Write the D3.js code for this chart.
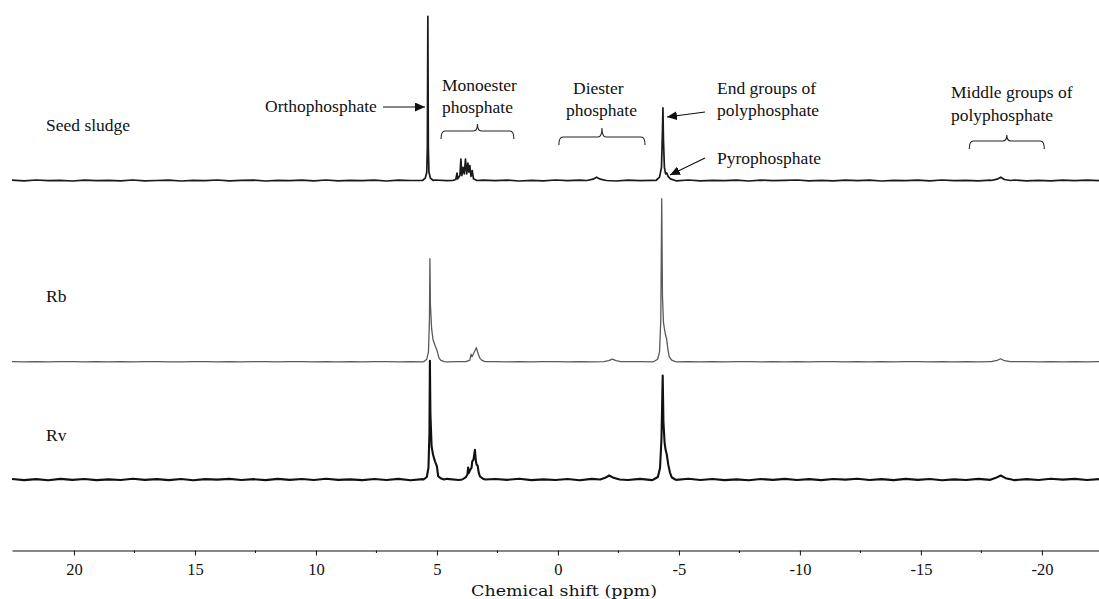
<!DOCTYPE html>
<html>
<head>
<meta charset="utf-8">
<script src="https://cdn.jsdelivr.net/npm/d3@7"></script>
<style>
body { margin: 0; background: #fff; }
text { font-family: "Liberation Serif", "Times New Roman", serif; fill: #111; }
</style>
</head>
<body>
<svg id="chart" width="1099" height="599"></svg>
<script>
// 31P NMR spectra. intensity is arbitrary (seed orthophosphate ~ 100)
var sampleNames = ["Seed sludge", "Rb", "Rv"];

var tickValues = [20, 15, 10, 5, 0, -5, -10, -15, -20];
var minorTicks = [17.5, 12.5, 7.5, 2.5, -2.5, -7.5, -12.5, -17.5];

// peak segments: [ppm, intensity]
var seedPeaks = [
  [[5.60,0],[5.48,1.5],[5.42,5],[5.395,20],[5.375,99.5],[5.355,20],[5.33,5],[5.27,1.5],[5.15,0]],
  [[4.35,0],[4.22,0.6],[4.17,4.5],[4.14,1],[4.05,3],[4.01,13],[3.97,3],[3.92,8],[3.87,4],[3.82,13],[3.77,4],[3.72,10.5],[3.68,5],[3.64,9],[3.59,2.5],[3.54,6],[3.49,1],[3.35,0]],
  [[-1.2,0],[-1.45,0.8],[-1.6,2],[-1.75,0.8],[-2.0,0]],
  [[-4.05,0],[-4.2,2],[-4.28,8],[-4.32,30],[-4.34,44],[-4.36,25],[-4.40,8],[-4.45,4],[-4.50,4.5],[-4.55,2.5],[-4.65,1],[-4.85,0]],
  [[-17.9,0],[-18.15,0.8],[-18.3,2],[-18.45,0.6],[-18.7,0]]
];
var rbPeaks = [
  [[5.55,0],[5.42,1.5],[5.35,6],[5.31,25],[5.29,62.4],[5.27,35],[5.22,20],[5.16,13.3],[5.08,10],[5.00,7],[4.92,2.5],[4.85,1],[4.7,0]],
  [[3.8,0],[3.64,1],[3.59,4.5],[3.55,3],[3.45,6],[3.37,8.5],[3.30,5],[3.22,2],[3.12,0.6],[3.0,0]],
  [[-1.9,0],[-2.1,0.6],[-2.25,1.5],[-2.4,0.6],[-2.6,0]],
  [[-3.95,0],[-4.12,1.5],[-4.2,6],[-4.25,25],[-4.29,98.8],[-4.32,40],[-4.36,24],[-4.40,20],[-4.45,16],[-4.49,14],[-4.55,7],[-4.60,3],[-4.70,1],[-4.85,0]],
  [[-17.9,0],[-18.15,0.8],[-18.3,1.8],[-18.45,0.6],[-18.7,0]]
];
var rvPeaks = [
  [[5.55,0],[5.42,1.5],[5.35,7],[5.31,28],[5.29,72],[5.27,40],[5.22,20],[5.16,15],[5.08,11],[5.00,8],[4.95,2],[4.85,0.8],[4.7,0]],
  [[3.95,0],[3.80,1.5],[3.74,3],[3.71,7.3],[3.68,4],[3.62,6],[3.57,7],[3.54,11],[3.49,12],[3.43,18],[3.39,11],[3.36,9],[3.32,8.5],[3.27,4],[3.22,1.8],[3.10,0.5],[3.0,0]],
  [[-1.75,0],[-1.95,1],[-2.12,2.4],[-2.3,1],[-2.55,0]],
  [[-3.95,0],[-4.13,1.5],[-4.22,7],[-4.28,25],[-4.33,63],[-4.36,35],[-4.41,22],[-4.45,18],[-4.50,15],[-4.56,9],[-4.63,4.2],[-4.71,1.2],[-4.85,0]],
  [[-17.9,0],[-18.1,1],[-18.3,2.4],[-18.5,0.8],[-18.75,0]]
];

// baseline noise, evenly spaced across the ppm range
var seedNoise = [0.2,-0.2,0.3,-0.1,0.1,-0.3,0.2,-0.1,0.1,-0.2,
  0.3,-0.2,0.0,0.2,-0.3,0.1,-0.1,0.3,-0.2,0.1,
  0.2,-0.3,0.1,-0.1,0.2,-0.2,0.3,-0.2,0.1,-0.1,
  0.2,-0.3,0.2,0.0,-0.2,0.3,-0.1,0.1,-0.2,0.2,
  -0.1,0.2,-0.3,0.1,-0.2,0.3,-0.1,0.2,-0.2,0.1,
  -0.3,0.2,-0.1,0.1,0.2,-0.2,0.3,-0.2,0.1,-0.1,
  0.2,-0.3,0.2,-0.1,0.1,0.3,-0.2,0.1,-0.2,0.2,
  -0.1,0.2,-0.3,0.1,-0.1,0.2,-0.2,0.3,-0.1,0.1,
  -0.2,0.2,-0.1,0.3,-0.2,0.1,-0.2,0.2,-0.1,0.2,-0.1];
var rbNoise = [0.1,-0.1,0.1,-0.1,0.0,0.1,-0.1,0.1,-0.1,0.1,
  -0.1,0.1,0.1,-0.1,-0.1,0.1,0.0,-0.1,0.1,-0.1,
  0.1,0.1,-0.1,0.0,0.1,-0.1,0.1,-0.1,0.1,-0.1,
  0.1,0.0,-0.1,0.1,-0.1,0.1,-0.1,0.1,0.0,-0.1,
  0.1,-0.1,0.1,-0.1,0.1,0.0,-0.1,0.1,-0.1,0.1,
  -0.1,0.1,0.1,-0.1,0.0,-0.1,0.1,-0.1,0.1,-0.1,
  0.1,0.0,-0.1,0.1,-0.1,0.1,-0.1,0.1,0.0,-0.1,
  0.1,-0.1,0.1,-0.1,0.1,0.0,-0.1,0.1,-0.1,0.1,
  -0.1,0.1,-0.1,0.0,0.1,-0.1,0.1,-0.1,0.1,-0.1,0.1];
var rvNoise = [0.3,-0.4,0.2,-0.5,0.4,-0.2,0.3,-0.4,0.1,-0.3,
  0.5,-0.2,0.2,-0.4,0.3,-0.5,0.2,-0.1,0.4,-0.3,
  0.2,-0.4,0.4,-0.2,0.3,-0.3,0.5,-0.2,0.1,-0.4,
  0.3,-0.3,0.4,-0.5,0.2,-0.1,0.4,-0.3,0.2,-0.4,
  0.3,-0.2,0.5,-0.4,0.1,-0.3,0.3,-0.5,0.4,-0.2,
  0.2,-0.3,0.4,-0.4,0.2,-0.2,0.5,-0.3,0.3,-0.4,
  0.1,-0.5,0.3,-0.2,0.4,-0.3,0.2,-0.4,0.3,-0.1,
  0.5,-0.3,0.2,-0.4,0.4,-0.2,0.3,-0.5,0.1,-0.3,
  0.4,-0.2,0.3,-0.4,0.2,-0.3,0.5,-0.1,0.4,-0.3,0.2];

// bracketed regions (ppm)
var monoesterRange = [4.83, 1.82];
var diesterRange = [-0.04, -3.6];
var middleRange = [-17.0, -20.1];

var svg = d3.select("#chart");
var xMax = 22.56, xMin = -22.36;

var x = d3.scaleLinear().domain([xMax, xMin]).range([12, 1099]);

function buildTrace(peaks, noise) {
  var step = (xMax - xMin) / (noise.length - 1);
  var pts = [];
  noise.forEach(function(v, i) {
    var p = xMax - i * step;
    var inside = peaks.some(function(seg) { return p <= seg[0][0] && p >= seg[seg.length - 1][0]; });
    if (!inside) pts.push([p, v]);
  });
  peaks.forEach(function(seg) { pts = pts.concat(seg); });
  pts.sort(function(a, b) { return b[0] - a[0]; });
  return pts;
}

var traces = [buildTrace(seedPeaks, seedNoise), buildTrace(rbPeaks, rbNoise), buildTrace(rvPeaks, rvNoise)];
var baselines = [180.5, 361.7, 479.5];
var colors = ["#1a1a1a", "#5a5a5a", "#111"];
var widths = [1.7, 1.3, 2.1];
var labelY = [131, 302, 441];

traces.forEach(function(t, i) {
  var y = d3.scaleLinear().domain([0, 100]).range([baselines[i], baselines[i] - 165]);
  var line = d3.line()
    .x(function(d) { return x(d[0]); })
    .y(function(d) { return y(d[1]); });
  svg.append("path")
    .datum(t)
    .attr("fill", "none")
    .attr("stroke", colors[i])
    .attr("stroke-width", widths[i])
    .attr("stroke-linejoin", "round")
    .attr("d", line);
  svg.append("text")
    .attr("x", 46)
    .attr("y", labelY[i])
    .style("font-size", "17.5px")
    .text(sampleNames[i]);
});

// axis
var axis = d3.axisBottom(x)
  .tickValues(tickValues)
  .tickSizeInner(5)
  .tickSizeOuter(0)
  .tickFormat(function(d) { return String(d); });

var gx = svg.append("g")
  .attr("transform", "translate(0,550.5)")
  .call(axis);
gx.select(".domain").attr("stroke", "#111").attr("stroke-width", 1.2);
gx.selectAll(".tick line").attr("stroke", "#111");
gx.selectAll(".tick text")
  .attr("y", 13)
  .style("font-family", "'Liberation Serif', serif")
  .style("font-size", "16.5px")
  .attr("fill", "#222");

gx.selectAll(".minor")
  .data(minorTicks)
  .enter().append("line")
  .attr("class", "minor")
  .attr("x1", function(d) { return x(d); })
  .attr("x2", function(d) { return x(d); })
  .attr("y1", 0).attr("y2", 2.5)
  .attr("stroke", "#111");

svg.append("text")
  .attr("x", 564)
  .attr("y", 596)
  .attr("text-anchor", "middle")
  .style("font-family", "'DejaVu Serif', serif")
  .style("font-size", "15px")
  .attr("textLength", 186)
  .attr("lengthAdjust", "spacingAndGlyphs")
  .text("Chemical shift (ppm)");

// annotations
svg.append("defs").append("marker")
  .attr("id", "head")
  .attr("markerUnits", "userSpaceOnUse")
  .attr("markerWidth", 11).attr("markerHeight", 9)
  .attr("refX", 10).attr("refY", 4.5)
  .attr("orient", "auto")
  .append("path").attr("d", "M0,0 L10,4.5 L0,9 Z").attr("fill", "#111");

function label(lines, x0, y0, dy) {
  lines.forEach(function(s, k) {
    svg.append("text").attr("x", x0).attr("y", y0 + k * dy)
      .style("font-size", "17.5px").text(s);
  });
}
function arrow(x1, y1, x2, y2) {
  svg.append("line")
    .attr("x1", x1).attr("y1", y1).attr("x2", x2).attr("y2", y2)
    .attr("stroke", "#111").attr("stroke-width", 1.2)
    .attr("marker-end", "url(#head)");
}
function bracket(range, yl, depth, up) {
  var a = x(range[0]), b = x(range[1]), m = (a + b) / 2;
  var p = d3.path();
  p.moveTo(a, yl + depth);
  p.quadraticCurveTo(a, yl, a + 4, yl);
  p.lineTo(m - 4, yl);
  p.quadraticCurveTo(m, yl, m, yl - up);
  p.quadraticCurveTo(m, yl, m + 4, yl);
  p.lineTo(b - 4, yl);
  p.quadraticCurveTo(b, yl, b, yl + depth);
  svg.append("path").attr("d", p.toString())
    .attr("fill", "none").attr("stroke", "#222").attr("stroke-width", 1.1);
}

label(["Orthophosphate"], 265, 111.5, 0);
arrow(383, 107, 425, 107);

label(["Monoester", "phosphate"], 442, 90.7, 22);
bracket(monoesterRange, 131, 8, 7);

label(["Diester"], 573, 94, 0);
label(["phosphate"], 566, 116, 0);
bracket(diesterRange, 137, 8, 9);

label(["End groups of", "polyphosphate"], 717, 93.5, 22.5);
arrow(705, 112, 667, 117);

label(["Pyrophosphate"], 717, 164, 0);
arrow(705, 158, 670, 175);

label(["Middle groups of", "polyphosphate"], 951, 98.3, 23);
bracket(middleRange, 141, 8, 6);
</script>
</body>
</html>
